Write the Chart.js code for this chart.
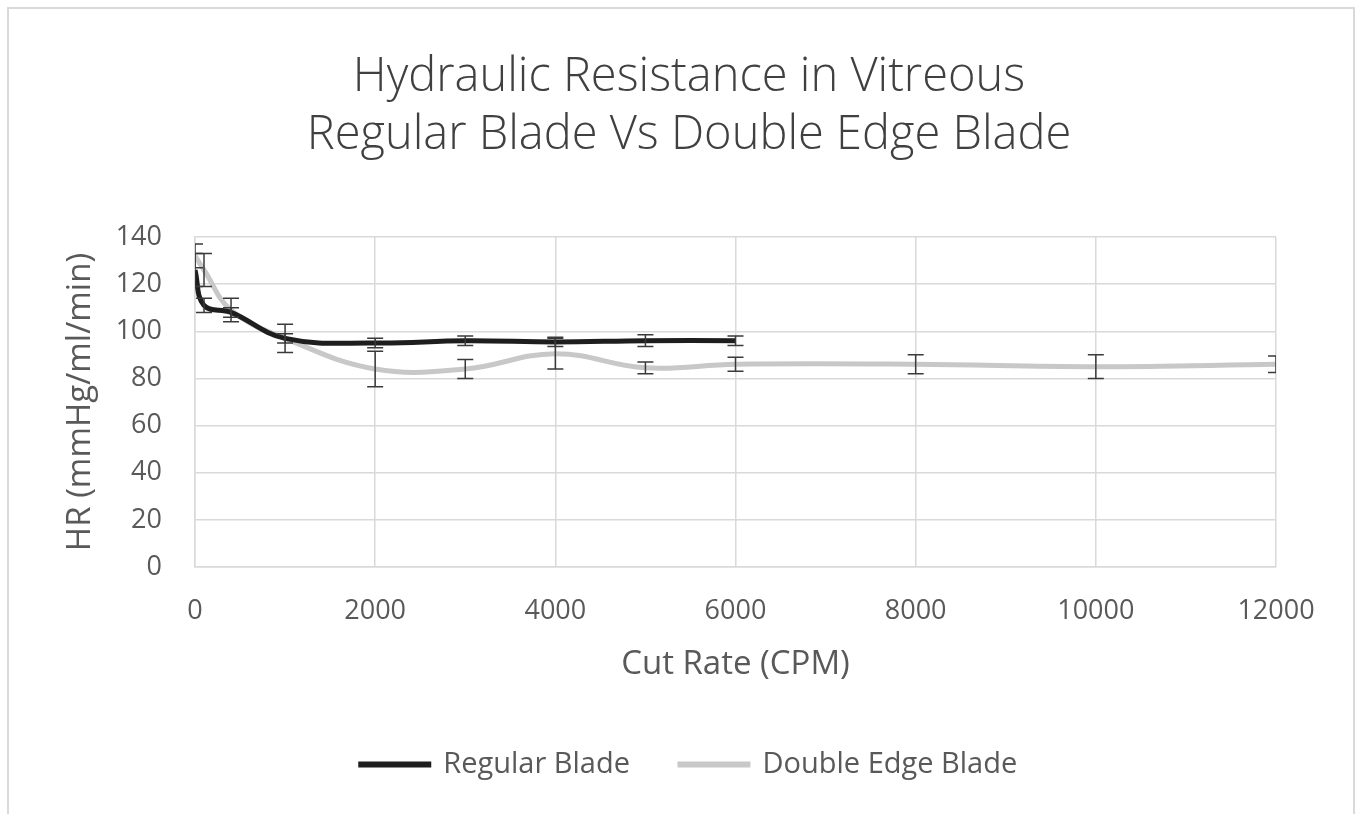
<!DOCTYPE html>
<html>
<head>
<meta charset="utf-8">
<script src="https://cdn.jsdelivr.net/npm/chart.js@4.4.1/dist/chart.umd.min.js"></script>
<style>
  body { margin: 0; background: #fff; }
  #wrap { width: 1361px; height: 814px; position: relative; }
</style>
</head>
<body>
<div id="wrap"><canvas id="hr-chart" width="1361" height="814"></canvas></div>
<script>
// values
const regularCutRate = [0, 100, 400, 1000, 2000, 3000, 4000, 5000, 6000]
const regularHR = [126, 111, 108, 97, 95, 96, 95.5, 96, 96]
const regularErr = [7, 3, 2, 2, 2, 2, 2, 2.5, 2]

const doubleCutRate = [0, 100, 400, 1000, 2000, 3000, 4000, 5000, 6000, 8000, 10000, 12000]
const doubleHR = [132, 126, 109, 97, 84, 84, 90.5, 84.5, 86, 86, 85, 86]
const doubleErr = [5, 7, 5, 6, 7.5, 4, 6.5, 2.5, 3, 4, 5, 3.5]

const xTicks = [0, 2000, 4000, 6000, 8000, 10000, 12000]
const yTicks = [0, 20, 40, 60, 80, 100, 120, 140]

function toPoints(xs, ys) {
  return xs.map((x, i) => ({ x: x, y: ys[i] }))
}

// vertical error bars, drawn through the chart scales
const errorBars = {
  id: "errorBars",
  afterDatasetsDraw(chart) {
    const ctx = chart.ctx
    const xs = chart.scales.x
    const ys = chart.scales.y
    const area = chart.chartArea
    ctx.save()
    ctx.beginPath()
    ctx.rect(area.left, area.top - 20, area.right - area.left, area.bottom - area.top + 20)
    ctx.clip()
    ctx.strokeStyle = "#3a3a3a"
    ctx.lineWidth = 1.5
    chart.data.datasets.forEach(function (ds) {
      ds.data.forEach(function (p, i) {
        const e = ds.errors[i]
        const px = xs.getPixelForValue(p.x)
        const top = ys.getPixelForValue(p.y + e)
        const bot = ys.getPixelForValue(p.y - e)
        ctx.beginPath()
        ctx.moveTo(px, top)
        ctx.lineTo(px, bot)
        ctx.moveTo(px - 8, top)
        ctx.lineTo(px + 8, top)
        ctx.moveTo(px - 8, bot)
        ctx.lineTo(px + 8, bot)
        ctx.stroke()
      })
    })
    ctx.restore()
  },
}

// light frame round the whole chart, like the office chart border
const frame = {
  id: "frame",
  beforeDraw(chart) {
    const ctx = chart.ctx
    ctx.save()
    ctx.fillStyle = "#fff"
    ctx.fillRect(0, 0, chart.width, chart.height)
    ctx.strokeStyle = "#d9d9d9"
    ctx.lineWidth = 2
    ctx.strokeRect(8, 8, 1346, 830)
    ctx.restore()
  },
}

const font = "'Open Sans', 'DejaVu Sans', sans-serif"

let ctxLine = document.getElementById("hr-chart").getContext("2d")
let hrChart = new Chart(ctxLine, {
  type: "line",
  data: {
    datasets: [
      {
        label: "Regular Blade",
        data: toPoints(regularCutRate, regularHR),
        errors: regularErr,
        borderColor: "#1e1e1e",
        backgroundColor: "#1e1e1e",
        borderWidth: 5,
        pointRadius: 0,
        tension: 0.4,
        order: 0,
      },
      {
        label: "Double Edge Blade",
        data: toPoints(doubleCutRate, doubleHR),
        errors: doubleErr,
        borderColor: "#c8c8c8",
        backgroundColor: "#c8c8c8",
        borderWidth: 5,
        pointRadius: 0,
        tension: 0.4,
        order: 1,
      },
    ],
  },
  options: {
    responsive: false,
    animation: false,
    layout: { padding: { left: 102, right: 85, top: 49, bottom: 25 } },
    plugins: {
      title: {
        display: true,
        text: ["Hydraulic Resistance in Vitreous", "Regular Blade Vs Double Edge Blade"],
        color: "#404040",
        font: { family: font, size: 47, weight: "300", lineHeight: 1.234 },
        padding: { top: 0, bottom: 72 },
      },
      legend: {
        display: true,
        position: "bottom",
        labels: {
          color: "#595959",
          font: { family: font, size: 29 },
          boxWidth: 68,
          boxHeight: 1,
          padding: 50,
        },
      },
      tooltip: { enabled: false },
    },
    scales: {
      x: {
        type: "linear",
        min: 0,
        max: 12000,
        afterBuildTicks(scale) {
          scale.ticks = xTicks.map((v) => ({ value: v }))
        },
        afterFit(scale) {
          scale.height = 133
        },
        grid: { color: "#d9d9d9", lineWidth: 1.5, drawTicks: false },
        border: { color: "#d9d9d9", width: 1.5 },
        ticks: {
          color: "#595959",
          font: { family: font, size: 27 },
          padding: 28,
          maxRotation: 0,
          callback: (v) => String(v),
        },
        title: {
          display: true,
          text: "Cut Rate (CPM)",
          color: "#595959",
          font: { family: font, size: 33 },
          padding: { top: 17, bottom: 16 },
        },
      },
      y: {
        min: 0,
        max: 140,
        afterBuildTicks(scale) {
          scale.ticks = yTicks.map((v) => ({ value: v }))
        },
        afterFit(scale) {
          scale.width = 93
        },
        grid: { color: "#d9d9d9", lineWidth: 1.5, drawTicks: false },
        border: { color: "#d9d9d9", width: 1.5 },
        ticks: {
          color: "#595959",
          font: { family: font, size: 27 },
          padding: 33,
          callback: (v) => String(v),
        },
        title: {
          display: true,
          text: "HR (mmHg/ml/min)",
          color: "#595959",
          font: { family: font, size: 33 },
          padding: { top: -41, bottom: 0 },
        },
      },
    },
  },
  plugins: [frame, errorBars],
})
</script>
</body>
</html>
